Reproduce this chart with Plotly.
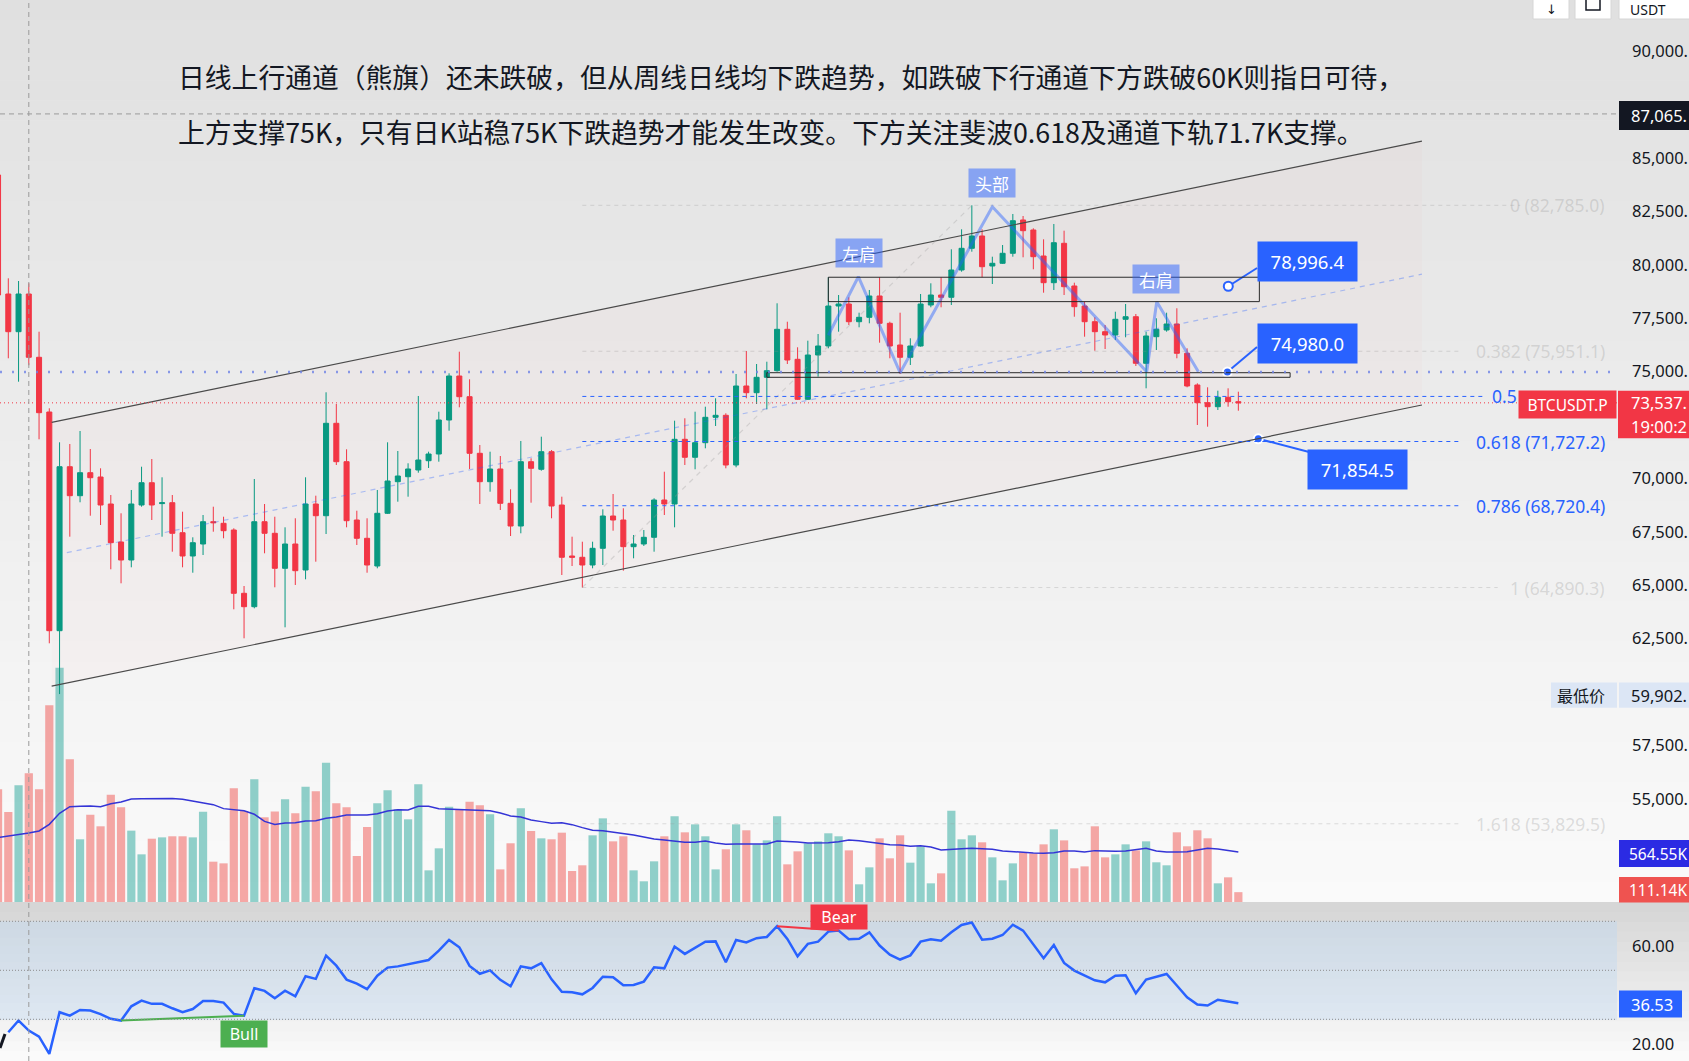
import plotly.graph_objects as go

W, H = 1689, 1061

# ---------------- data ----------------
candle_open = [84205, 78633, 76868, 78633, 75670, 73108, 62869, 70547, 69190, 70267,
               70065, 68801, 67022, 66179, 68754, 69798, 68820, 68862, 67457, 66366,
               66928, 67972, 67897, 67584, 64620, 63993, 67972, 67429, 65790, 66928,
               65711, 68801, 68253, 72579, 70782, 68052, 67195, 65898, 68366, 69845,
               70079, 70393, 70828, 71142, 72734, 74794, 73825, 71175, 69845, 70440,
               68834, 67771, 70782, 70426, 71250, 68754, 66366, 66306, 65945, 66727,
               68239, 68052, 66802, 66928, 67242, 68988, 68801, 71830, 70988, 71671,
               72860, 72954, 70627, 74326, 74012, 74733, 75042, 76980, 75576, 73703,
               75777, 76199, 78071, 78165, 77336, 77542, 78540, 77261, 76245, 75670,
               76199, 78118, 78586, 78479, 79757, 80773, 81349, 79944, 80071, 80539,
               82098, 81630, 80412, 79162, 81007, 79008, 78071, 77336, 76868, 76714,
               77449, 77570, 75389, 76634, 76948, 77229, 75857, 74373, 73544, 73357,
               73797, 73591]
candle_high = [84500, 79368, 79242, 79134, 76868, 73282, 71690, 71610, 72219, 71376,
               70472, 69222, 68366, 69457, 70547, 70908, 70051, 69222, 68441, 67242,
               68286, 68675, 68206, 67663, 64962, 69971, 68801, 68206, 67710, 68132,
               70051, 69190, 74031, 73483, 71362, 68487, 68132, 69457, 71690, 71282,
               70707, 73858, 71250, 73123, 74920, 75932, 74639, 71563, 71250, 71048,
               69489, 71751, 70941, 71952, 71329, 69143, 67270, 67036, 67036, 68553,
               69269, 68600, 67350, 67584, 69068, 70313, 72701, 72814, 73123, 73357,
               73750, 73048, 74888, 75965, 75356, 75464, 78198, 77336, 76138, 76447,
               76760, 79415, 78586, 78479, 77758, 78821, 79415, 77336, 77758, 76559,
               78633, 79134, 79415, 80726, 81662, 82785, 81662, 80380, 80927, 82379,
               82285, 81709, 81194, 81911, 81597, 79162, 78273, 77542, 77182, 77805,
               78165, 77697, 76868, 77496, 77758, 77964, 76091, 74452, 74265, 74106,
               74218, 74059]
candle_low = [78300, 75623, 74527, 75300, 71830, 62279, 59902, 67270, 68881, 68253,
              67818, 65744, 65088, 65837, 68675, 68052, 67270, 66568, 65837, 65584,
              66413, 67504, 67195, 63871, 62513, 63918, 66493, 64901, 63028, 65009,
              65275, 66100, 67396, 70627, 67710, 66881, 65584, 65790, 68333, 68909,
              69143, 70267, 70487, 70782, 72233, 73329, 70440, 68801, 69377, 68520,
              67303, 67429, 68862, 70360, 68132, 65477, 65898, 64890, 65790, 65945,
              67551, 65678, 66259, 66835, 66568, 68286, 67710, 70627, 70426, 71409,
              72453, 70472, 70519, 73750, 73483, 73235, 74995, 75356, 73670, 73670,
              74761, 76091, 76868, 77182, 77074, 77261, 76353, 75623, 74888, 75309,
              76166, 78011, 78011, 78118, 79677, 80614, 79415, 79101, 80040, 80380,
              80352, 79790, 78694, 78821, 78586, 77570, 76634, 75979, 76058, 76480,
              76606, 75262, 74218, 76011, 76868, 75623, 74265, 72500, 72420, 73202,
              73357, 73169]
candle_close = [78586, 76868, 78633, 75670, 73076, 62869, 70547, 69190, 70267, 70032,
                68754, 66989, 66179, 68801, 69798, 68754, 68860, 67429, 66366, 66989,
                67972, 67926, 67551, 64620, 63993, 67972, 67429, 65790, 66928, 65678,
                68801, 68253, 72579, 70782, 68019, 67195, 65945, 68366, 69878, 70112,
                70440, 70861, 71142, 72734, 74794, 73825, 71175, 69845, 70440, 68834,
                67771, 70782, 70472, 71250, 68707, 66306, 66306, 65945, 66727, 68239,
                68052, 66802, 66928, 67242, 68988, 68801, 71830, 70988, 71671, 72860,
                72954, 70627, 74326, 74012, 74733, 75042, 76980, 75543, 73703, 75777,
                76199, 78071, 78165, 77336, 77542, 78540, 77261, 76199, 75670, 76199,
                78165, 78586, 78479, 79757, 80773, 81349, 79911, 80071, 80539, 82065,
                81597, 80380, 79162, 81035, 78975, 78039, 77336, 76868, 76714, 77449,
                77570, 75389, 76667, 76980, 77229, 75857, 74326, 73544, 73357, 73797,
                73591, 73537.1]
volume_k = [1274, 1018, 1320, 1455, 1274, 2224, 2650, 1614, 709, 988,
            856, 1214, 1071, 807, 539, 716, 731, 743, 743, 731,
            1022, 456, 437, 1286, 1029, 1387, 958, 1025, 1161, 1003,
            1304, 1252, 1576, 1116, 1071, 520, 848, 1116, 1263, 1048,
            935, 1331, 358, 607, 1078, 1041, 1135, 1093, 992, 369,
            664, 1059, 803, 720, 709, 784, 351, 415, 754, 946,
            686, 743, 358, 234, 460, 743, 969, 788, 878, 743,
            369, 596, 878, 811, 652, 697, 969, 426, 573, 664,
            686, 777, 743, 584, 200, 392, 720, 494, 754, 445,
            630, 211, 324, 1033, 709, 754, 675, 505, 245, 437,
            562, 550, 652, 822, 697, 381, 403, 856, 505, 539,
            652, 584, 686, 449, 415, 788, 630, 811, 720, 211,
            279, 111.14]
volume_ma_k = [728, 743, 758, 780, 803, 878, 1003, 1078, 1083, 1086,
               1078, 1112, 1131, 1165, 1167, 1169, 1171, 1172, 1161, 1139,
               1120, 1101, 1056, 1045, 1033, 992, 912, 878, 893, 897,
               916, 920, 946, 961, 984, 984, 984, 999, 1029, 1044,
               1041, 1082, 1082, 1056, 1052, 1041, 1041, 1041, 1033, 1007,
               973, 961, 927, 909, 890, 897, 875, 841, 811, 807,
               792, 769, 758, 735, 713, 701, 690, 675, 675, 690,
               667, 652, 656, 656, 656, 656, 690, 686, 679, 667,
               667, 671, 682, 701, 694, 679, 660, 648, 645, 630,
               637, 622, 588, 599, 603, 607, 599, 596, 577, 566,
               562, 554, 550, 558, 577, 577, 566, 581, 573, 573,
               577, 592, 607, 577, 566, 566, 569, 588, 607, 599,
               584, 564.55]
rsi = [None, 24.7, 29.5, 25.4, 22.9, 15.9, 32.9, 31.5, 33.8, 33.6,
       32.1, 30.2, 29.5, 35.3, 37.6, 36.3, 36.3, 34.5, 32.9, 34.2,
       37.5, 37.5, 36.8, 32.2, 31.5, 42.7, 41.6, 38.6, 41.7, 39.4,
       47.6, 46.5, 56.0, 51.9, 46.2, 44.6, 42.3, 47.8, 51.1, 51.6,
       52.5, 53.5, 54.2, 58.0, 62.4, 59.4, 51.8, 48.6, 50.0, 46.1,
       43.5, 51.6, 50.8, 52.9, 46.3, 41.2, 41.0, 40.2, 42.8, 47.4,
       47.2, 43.9, 44.0, 45.4, 51.2, 50.8, 59.7, 56.7, 59.1, 61.7,
       61.8, 53.3, 62.4, 61.4, 63.1, 63.6, 68.0, 62.8, 55.7, 60.8,
       61.7, 65.8, 66.2, 62.7, 62.9, 65.5, 60.1, 56.4, 54.4, 56.1,
       61.7, 62.7, 62.1, 65.5, 68.5, 69.5, 62.5, 62.9, 64.4, 68.6,
       66.2, 60.3, 54.9, 60.3, 53.0, 49.9, 47.8, 45.9, 45.1, 47.8,
       48.0, 40.6, 46.2, 47.4, 48.5, 43.8, 39.0, 36.0, 35.6, 38.0,
       37.4, 36.53]

# tick labels that are not hidden behind a price-scale badge
price_ticks = [55000, 57500, 62500, 65000, 67500, 70000, 75000,
               77500, 80000, 82500, 85000, 90000]
rsi_ticks = [20, 60]
rsi_levels = [70, 50, 30]

fib_ratios = ["0", "0.382", "0.5", "0.618", "0.786", "1", "1.618"]
fib_prices = [82785.0, 75951.1, 73837.6, 71727.2, 68720.4, 64890.3, 53829.5]
fib_strong = [False, False, True, True, True, False, False]
fib_start_bar = 58
fib_end_bar = [149.5, 143.6, 145.8, 143.6, 143.6, 147.3, 143.6]

# drawings (bar index, price)
channel_upper = [(6.23, 72626), (139.91, 85792)]
channel_lower = [(6.23, 60271), (139.91, 73436)]
channel_mid = [(7.71, 66526), (139.91, 79560)]
neck_box_upper = [(82.0, 78276), (124.05, 79418)]
neck_box_lower = [(76.0, 74733), (127.05, 74948)]
hs_x = [82.0, 84.93, 89.0, 98.0, 113.06, 114.04, 118.1]
hs_y = [76700, 79443, 74948, 82720, 74995, 78273, 74995]
hs_labels = [("左肩", 84.95, 80557), ("头部", 97.97, 83830), ("右肩", 113.97, 79336)]
callouts = [  # text, dot bar, dot price, box bar, box price, joint bar, joint price, hollow
    ("78,996.4", 121.02, 78996.4, 128.70, 80146, 123.83, 79851, True),
    ("74,980.0", 120.93, 74980.0, 128.70, 76306, 123.82, 76152, False),
    ("71,854.5", 123.94, 71854.5, 133.61, 70430, 128.90, 71236, False),
]
support_line_price = 74980.0
last_price = 73537.1
crosshair_bar = 4
crosshair_price = 87065.0
bull_div = (13, 25)
bear_div = (77, 83)

title_lines = [
    "日线上行通道（熊旗）还未跌破，但从周线日线均下跌趋势，如跌破下行通道下方跌破60K则指日可待，",
    "上方支撑75K，只有日K站稳75K下跌趋势才能发生改变。下方关注斐波0.618及通道下轨71.7K支撑。",
]

# ---------------- layout geometry ----------------
PLOT_R = 1617           # right edge of plot area (px)
PRICE_BOTTOM = 902      # bottom of price / volume pane (px)
X_RANGE = [1.19, 158.94]
PRICE_RANGE = [50167, 92398]
VOL_RANGE = [0, 10202]
RSI_RANGE = [12.98, 77.47]
AXIS_TX = 1631          # left x of price-scale texts (px)

GREEN, RED, BLUE = "#089981", "#F23645", "#2962FF"
CJK = "Noto Sans CJK SC"
LAT = "Noto Sans"


def visible(s):
    """The screenshot crops the price scale: its last character is off-screen."""
    return s[:-1]


idx = list(range(1, len(candle_open) + 1))
fig = go.Figure()


def px(x):
    return x / W


def py(y):
    return 1 - y / H


def band_gradient(x0, x1, y0, y1, c0, c1, steps):
    for k in range(steps):
        t = k / max(steps - 1, 1)
        c = tuple(round(a + (b - a) * t) for a, b in zip(c0, c1))
        ya = y0 + (y1 - y0) * k / steps
        yb = y0 + (y1 - y0) * (k + 1) / steps + 0.6
        fig.add_shape(type="rect", xref="paper", yref="paper", layer="below",
                      x0=px(x0), x1=px(x1), y0=py(yb), y1=py(ya),
                      fillcolor="rgb(%d,%d,%d)" % c, line=dict(width=0))


# backgrounds
band_gradient(0, W, 0, PRICE_BOTTOM, (224, 224, 224), (250, 250, 250), 45)
band_gradient(0, W, PRICE_BOTTOM, H, (214, 214, 214), (250, 250, 250), 16)
rsi_y70 = 921.3
rsi_y30 = 1019.3
band_gradient(0, PLOT_R, rsi_y70, rsi_y30, (206, 217, 228), (221, 231, 241), 12)

# faint channel tint
fig.add_shape(type="path", xref="x", yref="y2", layer="below",
              path="M %f,%f L %f,%f L %f,%f L %f,%f Z" % (
                  channel_upper[0][0], channel_upper[0][1], channel_upper[1][0], channel_upper[1][1],
                  channel_lower[1][0], channel_lower[1][1], channel_lower[0][0], channel_lower[0][1]),
              fillcolor="rgba(242,54,69,0.018)", line=dict(width=0))

# ---------------- traces ----------------
vol_colors = ["rgba(38,166,154,0.5)" if c >= o else "rgba(239,83,80,0.5)"
              for o, c in zip(candle_open, candle_close)]
fig.add_trace(go.Bar(x=idx, y=volume_k, width=0.8, marker=dict(color=vol_colors, line=dict(width=0)),
                     xaxis="x", yaxis="y", hoverinfo="skip"))
fig.add_trace(go.Scatter(x=idx, y=volume_ma_k, mode="lines", line=dict(color="#3434D6", width=1.5),
                         xaxis="x", yaxis="y", hoverinfo="skip"))

fig.add_trace(go.Candlestick(
    x=idx, open=candle_open, high=candle_high, low=candle_low, close=candle_close,
    increasing=dict(line=dict(color=GREEN, width=1), fillcolor=GREEN),
    decreasing=dict(line=dict(color=RED, width=1), fillcolor=RED),
    whiskerwidth=0, xaxis="x", yaxis="y2", hoverinfo="skip"))

# head & shoulders zigzag
fig.add_trace(go.Scatter(x=hs_x, y=hs_y, mode="lines", line=dict(color="rgba(41,98,255,0.45)", width=3),
                         xaxis="x", yaxis="y2", hoverinfo="skip"))

# RSI
fig.add_trace(go.Scatter(x=idx, y=rsi, mode="lines", line=dict(color=BLUE, width=2.5),
                         xaxis="x", yaxis="y3", hoverinfo="skip"))
fig.add_trace(go.Scatter(x=list(bull_div), y=[rsi[bull_div[0] - 1], rsi[bull_div[1] - 1]], mode="lines",
                         line=dict(color="#4CAF50", width=2), xaxis="x", yaxis="y3", hoverinfo="skip"))
fig.add_trace(go.Scatter(x=list(bear_div), y=[rsi[bear_div[0] - 1], rsi[bear_div[1] - 1]], mode="lines",
                         line=dict(color=RED, width=2), xaxis="x", yaxis="y3", hoverinfo="skip"))

# callout connectors + dots
for text, dx, dy, bx, by, jx, jy, hollow in callouts:
    fig.add_trace(go.Scatter(x=[dx, jx], y=[dy, jy], mode="lines", line=dict(color=BLUE, width=2),
                             xaxis="x", yaxis="y2", hoverinfo="skip"))
for text, dx, dy, bx, by, jx, jy, hollow in callouts:
    fig.add_trace(go.Scatter(x=[dx], y=[dy], mode="markers",
                             marker=dict(size=9, color="white" if hollow else BLUE,
                                         line=dict(color=BLUE if hollow else "white", width=2)),
                             xaxis="x", yaxis="y2", hoverinfo="skip"))

# ---------------- drawings (shapes above) ----------------
def dline(p0, p1, color, width=1, dash="solid", yref="y2"):
    fig.add_shape(type="line", xref="x", yref=yref, x0=p0[0], y0=p0[1], x1=p1[0], y1=p1[1],
                  line=dict(color=color, width=width, dash=dash), layer="above")


dline(*channel_upper, "#4a4a4a", 1.2)
dline(*channel_lower, "#4a4a4a", 1.2)
dline(*channel_mid, "rgba(41,98,255,0.35)", 1.2, "5px,5px")
dline((fib_start_bar, fib_prices[5]), (96, fib_prices[0]), "rgba(150,150,150,0.3)", 1.2, "5px,5px")

for (x0, y0), (x1, y1) in [neck_box_upper, neck_box_lower]:
    fig.add_shape(type="rect", xref="x", yref="y2", x0=x0, x1=x1, y0=y0, y1=y1,
                  line=dict(color="#2a2a2a", width=1), fillcolor="rgba(0,0,0,0)", layer="above")

for ratio, price, strong, xe in zip(fib_ratios, fib_prices, fib_strong, fib_end_bar):
    col = BLUE if strong else "rgba(150,150,150,0.3)"
    dline((fib_start_bar, price), (xe, price), col, 1, "4px,4px")

# support dotted line & current price line & crosshair
fig.add_shape(type="line", xref="paper", yref="y2", x0=0, x1=px(PLOT_R), y0=support_line_price,
              y1=support_line_price, line=dict(color="rgba(110,130,230,0.8)", width=2.5, dash="2px,10px"),
              layer="above")
fig.add_shape(type="line", xref="paper", yref="y2", x0=0, x1=px(PLOT_R), y0=last_price, y1=last_price,
              line=dict(color=RED, width=1, dash="1px,3px"), layer="above")
fig.add_shape(type="line", xref="paper", yref="y2", x0=0, x1=px(PLOT_R), y0=crosshair_price,
              y1=crosshair_price, line=dict(color="#9a9a9a", width=1, dash="5px,4px"), layer="above")
fig.add_shape(type="line", xref="x", yref="paper", x0=crosshair_bar, x1=crosshair_bar, y0=0, y1=1,
              line=dict(color="#9a9a9a", width=1, dash="5px,4px"), layer="above")

# RSI guide levels
for lv in rsi_levels:
    fig.add_shape(type="line", xref="paper", yref="y3", x0=0, x1=px(PLOT_R), y0=lv, y1=lv,
                  line=dict(color="#8c8c8c", width=1, dash="1px,2px"), layer="above")

# TradingView logo fragment
fig.add_shape(type="line", xref="paper", yref="paper", x0=px(0), y0=py(1048), x1=px(5), y1=py(1034),
              line=dict(color="#131722", width=3), layer="above")

# ---------------- annotations ----------------
for k, line in enumerate(title_lines):
    fig.add_annotation(xref="paper", yref="paper", x=px(176), y=py([76.6, 131.6][k]), text=line,
                       showarrow=False, xanchor="left", yanchor="middle",
                       font=dict(family=CJK, size=26.8, color="#131722"))

for ratio, price, strong in zip(fib_ratios, fib_prices, fib_strong):
    col = BLUE if strong else "rgba(150,150,150,0.3)"
    if ratio == "0.5":
        # the rest of this label is hidden behind the symbol tag in the reference
        fig.add_annotation(xref="paper", yref="y2", x=px(1490), y=price, text=ratio,
                           showarrow=False, xanchor="left", yanchor="middle",
                           font=dict(family=LAT, size=17.5, color=col))
        continue
    fig.add_annotation(xref="paper", yref="y2", x=px(1607), y=price, text="%s (%s)" % (ratio, f"{price:,.1f}"),
                       showarrow=False, xanchor="right", yanchor="middle",
                       font=dict(family=LAT, size=17.5, color=col))

for text, x, y in hs_labels:
    fig.add_annotation(xref="x", yref="y2", x=x, y=y, text=text, showarrow=False,
                       xanchor="center", yanchor="middle",
                       bgcolor="rgba(41,98,255,0.5)", borderpad=4, width=38, height=20,
                       font=dict(family=CJK, size=17, color="white"))

for text, dx, dy, bx, by, jx, jy, hollow in callouts:
    fig.add_annotation(xref="x", yref="y2", x=bx, y=by, text=text, showarrow=False,
                       xanchor="center", yanchor="middle",
                       bgcolor=BLUE, borderpad=8, width=83, height=23,
                       font=dict(family=LAT, size=18.5, color="white"))

fig.add_annotation(xref="x", yref="y3", x=bull_div[1], y=rsi[bull_div[1] - 1], text="Bull",
                   showarrow=False, xanchor="center", yanchor="top", yshift=-4, bgcolor="#4CAF50",
                   borderpad=3, width=40, height=20, font=dict(family=LAT, size=16, color="white"))
fig.add_annotation(xref="x", yref="y3", x=bear_div[1], y=rsi[bear_div[1] - 1], text="Bear",
                   showarrow=False, xanchor="center", yanchor="bottom", yshift=1, bgcolor=RED,
                   borderpad=3, width=50, height=18, font=dict(family=LAT, size=16, color="white"))

# symbol label on the last-price line
fig.add_annotation(xref="paper", yref="paper", x=px(1567.5), y=py(404), text="BTCUSDT.P",
                   showarrow=False, xanchor="center", yanchor="middle", bgcolor=RED, borderpad=3,
                   width=91, height=21, font=dict(family=LAT, size=15.5, color="white"))


# price-scale badges (box shapes above tick labels + text)
def badge(x0, x1, y0, y1, color, lines, tcolor="white", tx=AXIS_TX, size=16.5, family=LAT):
    fig.add_shape(type="rect", xref="paper", yref="paper", x0=px(x0), x1=px(x1), y0=py(y1), y1=py(y0),
                  fillcolor=color, line=dict(width=0), layer="above")
    n = len(lines)
    for k, t in enumerate(lines):
        yc = y0 + (y1 - y0) * (k + 0.5) / n
        fig.add_annotation(xref="paper", yref="paper", x=px(tx), y=py(yc), text=t, showarrow=False,
                           xanchor="left", yanchor="middle", borderpad=0, borderwidth=0,
                           font=dict(family=family, size=size, color=tcolor))


badge(1619, 1700, 101, 130, "#131722", [visible(f"{crosshair_price:,.1f}")])
badge(1618, 1700, 390.7, 438.3, RED, [visible(f"{last_price:,.1f}"), visible("19:00:21")])
badge(1551, 1617, 682.4, 707.8, "#DCE6F5", ["最低价"], "#131722", tx=1557, size=16, family=CJK)
badge(1619, 1700, 682.4, 707.8, "#DCE6F5", [visible(f"{min(candle_low):,.1f}")], "#131722")
badge(1619, 1700, 840, 867, "#2B2BE3", [f"{volume_ma_k[-1]:.2f}K"], size=15.5, tx=1629)
badge(1619, 1700, 877, 902.5, "#EF5350", [f"{volume_k[-1]:.2f}K"], size=15.5, tx=1629)
badge(1619, 1682, 990.5, 1017.6, BLUE, [f"{rsi[-1]:.2f}"])

# top-right toolbar fragments
for x0, x1 in [(1533, 1569), (1575, 1611), (1619, 1700)]:
    fig.add_shape(type="rect", xref="paper", yref="paper", x0=px(x0), x1=px(x1), y0=py(19), y1=py(-10),
                  fillcolor="white", line=dict(color="#d6d6d6", width=1), layer="above")
fig.add_annotation(xref="paper", yref="paper", x=px(1551), y=py(9), text="↓", showarrow=False,
                   xanchor="center", yanchor="middle",
                   font=dict(family="DejaVu Sans", size=13, color="#131722"))
fig.add_shape(type="rect", xref="paper", yref="paper", x0=px(1586), x1=px(1600), y0=py(10), y1=py(-3),
              fillcolor="rgba(0,0,0,0)", line=dict(color="#131722", width=1.5), layer="above")
fig.add_annotation(xref="paper", yref="paper", x=px(1628), y=py(10), text="USDT", showarrow=False,
                   xanchor="left", yanchor="middle",
                   font=dict(family=LAT, size=14, color="#131722"))

# ---------------- axes ----------------
fig.update_layout(
    width=W, height=H, margin=dict(l=0, r=0, t=0, b=0, autoexpand=False),
    paper_bgcolor="#f0f0f0", plot_bgcolor="rgba(0,0,0,0)", showlegend=False,
    xaxis=dict(domain=[0, px(PLOT_R)], range=X_RANGE, visible=False, showgrid=False, automargin=False,
               rangeslider=dict(visible=False), anchor="y3"),
    yaxis=dict(domain=[py(PRICE_BOTTOM), 1], range=VOL_RANGE, visible=False, showgrid=False,
               automargin=False),
    yaxis2=dict(overlaying="y", side="right", anchor="x", range=PRICE_RANGE, tickvals=price_ticks,
                ticktext=[visible(f"{v:,.1f}") for v in price_ticks],
                showgrid=False, zeroline=False, showline=False, ticks="",
                automargin=False, ticklabelstandoff=14,
                tickfont=dict(family=LAT, size=16.5, color="#131722")),
    yaxis3=dict(domain=[0, py(903)], side="right", anchor="x", range=RSI_RANGE, tickvals=rsi_ticks,
                tickformat=".2f", showgrid=False, zeroline=False, showline=False, ticks="",
                automargin=False, ticklabelstandoff=14,
                tickfont=dict(family=LAT, size=16.5, color="#131722")),
)

fig.write_html("out.html")
